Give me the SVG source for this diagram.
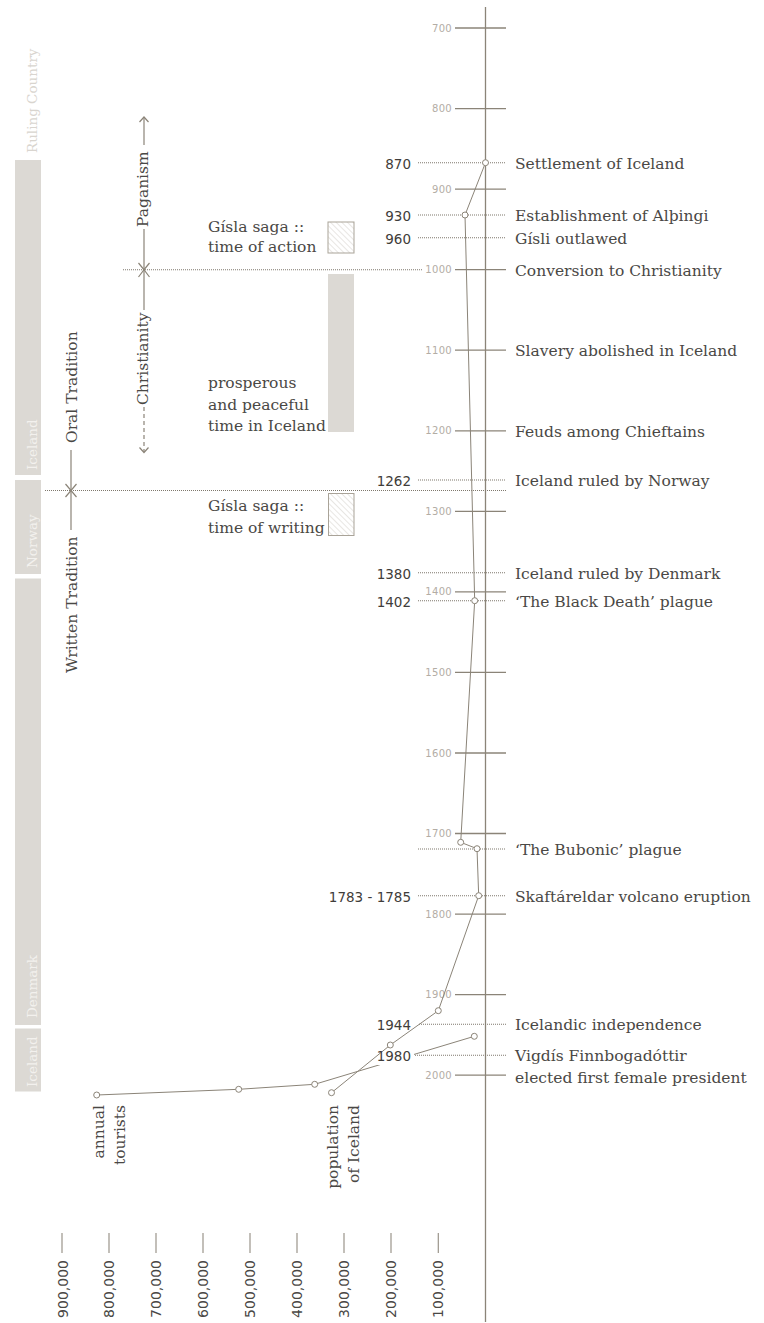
<svg xmlns="http://www.w3.org/2000/svg" width="764" height="1323" viewBox="0 0 764 1323">
<style>
.ax{stroke:#8b8478;stroke-width:1.3;fill:none}
.ln{stroke:#8b8478;stroke-width:1.2;fill:none}
.dot{stroke:#7f786d;stroke-width:1.1;stroke-dasharray:1 1;fill:none}
.pl{stroke:#8b8478;stroke-width:1;fill:none}
.pt{fill:#fff;stroke:#8b8478;stroke-width:1}
.tk{font-family:"DejaVu Sans",sans-serif;font-size:10px;fill:#b3ada5;text-anchor:end;letter-spacing:0.3px}
.yr{font-family:"DejaVu Sans",sans-serif;font-size:13.5px;fill:#3f3d3a;text-anchor:end}
.ev{font-family:"DejaVu Serif",serif;font-size:15.5px;fill:#4a4845}
.bar{fill:#dcd9d4}
.bt{font-family:"DejaVu Serif",serif;font-size:13.5px;fill:#f3f1ee}
.pop{font-family:"DejaVu Sans",sans-serif;font-size:14px;fill:#4a4845;text-anchor:end}
.ptk{stroke:#9a948a;stroke-width:1.2}
</style>
<defs>
<pattern id="hatch" width="4" height="4" patternUnits="userSpaceOnUse" patternTransform="rotate(-45)">
<line x1="0" y1="0" x2="0" y2="4" stroke="#d2cec8" stroke-width="1"/>
</pattern>
</defs>

<g id="ruling-country">
<text transform="translate(36.5,153) rotate(-90)" font-family="DejaVu Serif,serif" font-size="13.5" fill="#d9d5cf">Ruling Country</text>
<rect class="bar" x="15" y="160" width="26" height="315"/>
<text class="bt" transform="translate(36.5,470) rotate(-90)">Iceland</text>
<rect class="bar" x="15" y="480" width="26" height="94"/>
<text class="bt" transform="translate(36.5,568) rotate(-90)">Norway</text>
<rect class="bar" x="15" y="578.5" width="26" height="446.5"/>
<text class="bt" transform="translate(36.5,1018) rotate(-90)">Denmark</text>
<rect class="bar" x="15" y="1028.5" width="26" height="63"/>
<text class="bt" transform="translate(36.5,1087) rotate(-90)">Iceland</text>
</g>

<g id="axis">
<line class="ax" x1="485.5" y1="7" x2="485.5" y2="1322"/>
<g class="ax">
<line x1="455" y1="28" x2="506" y2="28"/>
<line x1="455" y1="108.6" x2="506" y2="108.6"/>
<line x1="455" y1="189.1" x2="506" y2="189.1"/>
<line x1="455" y1="269.7" x2="506" y2="269.7"/>
<line x1="455" y1="350.2" x2="506" y2="350.2"/>
<line x1="455" y1="430.8" x2="506" y2="430.8"/>
<line x1="455" y1="511.3" x2="506" y2="511.3"/>
<line x1="455" y1="591.9" x2="506" y2="591.9"/>
<line x1="455" y1="672.4" x2="506" y2="672.4"/>
<line x1="455" y1="753" x2="506" y2="753"/>
<line x1="455" y1="833.5" x2="506" y2="833.5"/>
<line x1="455" y1="914.1" x2="506" y2="914.1"/>
<line x1="455" y1="994.6" x2="506" y2="994.6"/>
<line x1="455" y1="1075.2" x2="506" y2="1075.2"/>
</g>
<text class="tk" x="452" y="31.5">700</text>
<text class="tk" x="452" y="112">800</text>
<text class="tk" x="452" y="192.6">900</text>
<text class="tk" x="452" y="273.2">1000</text>
<text class="tk" x="452" y="353.7">1100</text>
<text class="tk" x="452" y="434.3">1200</text>
<text class="tk" x="452" y="514.8">1300</text>
<text class="tk" x="452" y="594.5">1400</text>
<text class="tk" x="452" y="675.9">1500</text>
<text class="tk" x="452" y="756.5">1600</text>
<text class="tk" x="452" y="837">1700</text>
<text class="tk" x="452" y="917.6">1800</text>
<text class="tk" x="452" y="998.1">1900</text>
<text class="tk" x="452" y="1078.7">2000</text>
</g>

<g id="connectors">
<line class="dot" x1="418" y1="162.7" x2="506" y2="162.7"/>
<line class="dot" x1="418" y1="215" x2="506" y2="215"/>
<line class="dot" x1="418" y1="237.7" x2="506" y2="237.7"/>
<line class="dot" x1="123" y1="269.7" x2="422" y2="269.7"/>
<line class="dot" x1="418" y1="480" x2="506" y2="480"/>
<line class="dot" x1="45" y1="490.5" x2="506" y2="490.5"/>
<line class="dot" x1="418" y1="572.7" x2="506" y2="572.7"/>
<line class="dot" x1="418" y1="600.7" x2="506" y2="600.7"/>
<line class="dot" x1="418" y1="849" x2="506" y2="849"/>
<line class="dot" x1="418" y1="895.7" x2="506" y2="895.7"/>
<line class="dot" x1="419" y1="1024.3" x2="506" y2="1024.3"/>
<line class="dot" x1="415" y1="1055.3" x2="506" y2="1055.3"/>
<polyline class="pl" points="96.7,1095 238.7,1089.3 314.7,1084.3 474.3,1036.3"/>
<rect x="376" y="1047" width="38" height="18" fill="#fff"/>
<polyline class="pl" points="485.5,162.7 465,215 474.7,600.7 460.7,842.3 477,848.7 478.7,895.7 438.3,1010.7 390.3,1045 331.5,1092.7"/>
</g>

<g id="points">
<circle class="pt" cx="485.5" cy="162.7" r="3"/>
<circle class="pt" cx="465" cy="215" r="3"/>
<circle class="pt" cx="474.7" cy="600.7" r="3"/>
<circle class="pt" cx="460.7" cy="842.3" r="3"/>
<circle class="pt" cx="477" cy="848.7" r="3"/>
<circle class="pt" cx="478.7" cy="895.7" r="3"/>
<circle class="pt" cx="438.3" cy="1010.7" r="3"/>
<circle class="pt" cx="390.3" cy="1045" r="3"/>
<circle class="pt" cx="331.5" cy="1092.7" r="3"/>
<circle class="pt" cx="96.7" cy="1095" r="3"/>
<circle class="pt" cx="238.7" cy="1089.3" r="3"/>
<circle class="pt" cx="314.7" cy="1084.3" r="3"/>
<circle class="pt" cx="474.3" cy="1036.3" r="3"/>
</g>

<g id="events">
<text class="yr" x="411" y="168.5">870</text>
<text class="ev" x="515" y="168.7">Settlement of Iceland</text>
<text class="yr" x="411" y="220.8">930</text>
<text class="ev" x="515" y="221">Establishment of Alþingi</text>
<text class="yr" x="411" y="243.5">960</text>
<text class="ev" x="515" y="243.7">Gísli outlawed</text>
<text class="ev" x="515" y="275.7">Conversion to Christianity</text>
<text class="ev" x="515" y="356.2">Slavery abolished in Iceland</text>
<text class="ev" x="515" y="436.8">Feuds among Chieftains</text>
<text class="yr" x="411" y="485.8">1262</text>
<text class="ev" x="515" y="486">Iceland ruled by Norway</text>
<text class="yr" x="411" y="578.5">1380</text>
<text class="ev" x="515" y="578.7">Iceland ruled by Denmark</text>
<text class="yr" x="411" y="606.5">1402</text>
<text class="ev" x="515" y="606.7">‘The Black Death’ plague</text>
<text class="ev" x="515" y="855">‘The Bubonic’ plague</text>
<text class="yr" x="411" y="901.5">1783 - 1785</text>
<text class="ev" x="515" y="901.7">Skaftáreldar volcano eruption</text>
<text class="yr" x="411" y="1030.1">1944</text>
<text class="ev" x="515" y="1030.3">Icelandic independence</text>
<text class="yr" x="411" y="1061.1">1980</text>
<text class="ev" x="515" y="1061.3">Vigdís Finnbogadóttir</text>
<text class="ev" x="515" y="1083.3">elected first female president</text>
</g>

<g id="religion">
<g class="ln">
<polyline points="139.5,122 144,117 148.5,122"/>
<line x1="144" y1="117" x2="144" y2="145"/>
<line x1="144" y1="229" x2="144" y2="310"/>
<polyline points="138.5,263 144,269.7 149.5,263"/>
<polyline points="138.5,277 144,269.7 149.5,277"/>
<line x1="144" y1="407" x2="144" y2="452" stroke-dasharray="4 3"/>
<polyline points="139.5,447.5 144,452.5 148.5,447.5"/>
</g>
<text class="ev" transform="translate(147.5,227) rotate(-90)">Paganism</text>
<text class="ev" transform="translate(147.5,405) rotate(-90)">Christianity</text>
</g>

<g id="tradition">
<g class="ln">
<line x1="71" y1="450" x2="71" y2="530"/>
<polyline points="65.5,484 71,490.5 76.5,484"/>
<polyline points="65.5,497 71,490.5 76.5,497"/>
</g>
<text class="ev" transform="translate(76.5,443) rotate(-90)">Oral Tradition</text>
<text class="ev" transform="translate(76.5,673) rotate(-90)">Written Tradition</text>
</g>

<g id="gisla-action">
<text class="ev" x="208" y="232">Gísla saga ::</text>
<text class="ev" x="208" y="252">time of action</text>
<rect x="328" y="222" width="26" height="31" fill="url(#hatch)" stroke="#a9a398" stroke-width="1"/>
</g>

<g id="prosperous">
<rect class="bar" x="328" y="274" width="26" height="158"/>
<text class="ev" x="208" y="388">prosperous</text>
<text class="ev" x="208" y="409.5">and peaceful</text>
<text class="ev" x="208" y="431">time in Iceland</text>
</g>

<g id="gisla-writing">
<text class="ev" x="208" y="511">Gísla saga ::</text>
<text class="ev" x="208" y="533">time of writing</text>
<rect x="328.5" y="493.5" width="25.5" height="42" fill="url(#hatch)" stroke="#a9a398" stroke-width="1"/>
</g>

<g id="population-labels">
<text class="ev" text-anchor="end" transform="translate(103.5,1105) rotate(-90)">annual</text>
<text class="ev" text-anchor="end" transform="translate(124.5,1105) rotate(-90)">tourists</text>
<text class="ev" text-anchor="end" transform="translate(337.5,1105) rotate(-90)">population</text>
<text class="ev" text-anchor="end" transform="translate(359,1105) rotate(-90)">of Iceland</text>
</g>

<g id="population-axis">
<g class="ptk">
<line x1="62" y1="1233" x2="62" y2="1253"/>
<line x1="109" y1="1233" x2="109" y2="1253"/>
<line x1="156" y1="1233" x2="156" y2="1253"/>
<line x1="203" y1="1233" x2="203" y2="1253"/>
<line x1="250" y1="1233" x2="250" y2="1253"/>
<line x1="297" y1="1233" x2="297" y2="1253"/>
<line x1="344" y1="1233" x2="344" y2="1253"/>
<line x1="391" y1="1233" x2="391" y2="1253"/>
<line x1="438.3" y1="1233" x2="438.3" y2="1253"/>
</g>
<text class="pop" transform="translate(67.5,1260) rotate(-90)">900,000</text>
<text class="pop" transform="translate(114,1260) rotate(-90)">800,000</text>
<text class="pop" transform="translate(161,1260) rotate(-90)">700,000</text>
<text class="pop" transform="translate(208,1260) rotate(-90)">600,000</text>
<text class="pop" transform="translate(255,1260) rotate(-90)">500,000</text>
<text class="pop" transform="translate(302,1260) rotate(-90)">400,000</text>
<text class="pop" transform="translate(349,1260) rotate(-90)">300,000</text>
<text class="pop" transform="translate(396,1260) rotate(-90)">200,000</text>
<text class="pop" transform="translate(443.3,1260) rotate(-90)">100,000</text>
</g>
</svg>
